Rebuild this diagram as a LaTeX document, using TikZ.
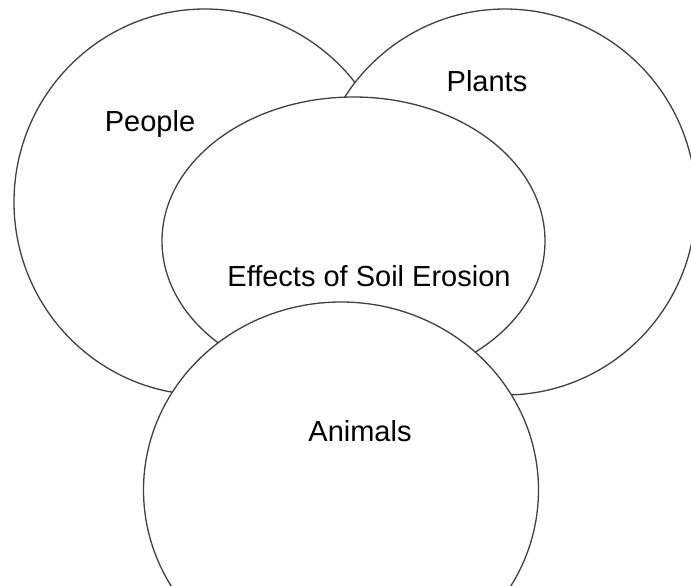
\documentclass[tikz,border=0pt]{standalone}
\usepackage{fontspec}
\setmainfont{Liberation Sans}
\usepackage{tikz}
\usetikzlibrary{shapes.geometric}
\definecolor{vnLine}{HTML}{404040}

\begin{document}
\begin{tikzpicture}[
  x=1pt, y=-1pt,
  vset/.style={ellipse, draw=vnLine, fill=white, line width=1.3pt, inner sep=0pt},
  lbl/.style={anchor=base, inner sep=0pt, font=\fontsize{29}{35}\selectfont}
]
  \useasboundingbox (0,0) rectangle (691,586);
  \clip (0,0) rectangle (691,586);

  \node[vset, minimum width=382pt, minimum height=386pt] (people) at (205,202) {};
  \node[vset, minimum width=382pt, minimum height=386pt] (plants) at (505,202) {};
  \node[vset, minimum width=383pt, minimum height=288pt] (effects) at (353.5,241) {};
  \node[vset, minimum width=395pt, minimum height=376pt] (animals) at (341,490) {};

  \node[lbl] (peopleTxt) at (150,131) {People};
  \node[lbl] (plantsTxt) at (487,91.5) {Plants};
  \node[lbl] (effectsTxt) at (369,286) {Effects of Soil Erosion};
  \node[lbl] (animalsTxt) at (360,441) {Animals};
\end{tikzpicture}
\end{document}
